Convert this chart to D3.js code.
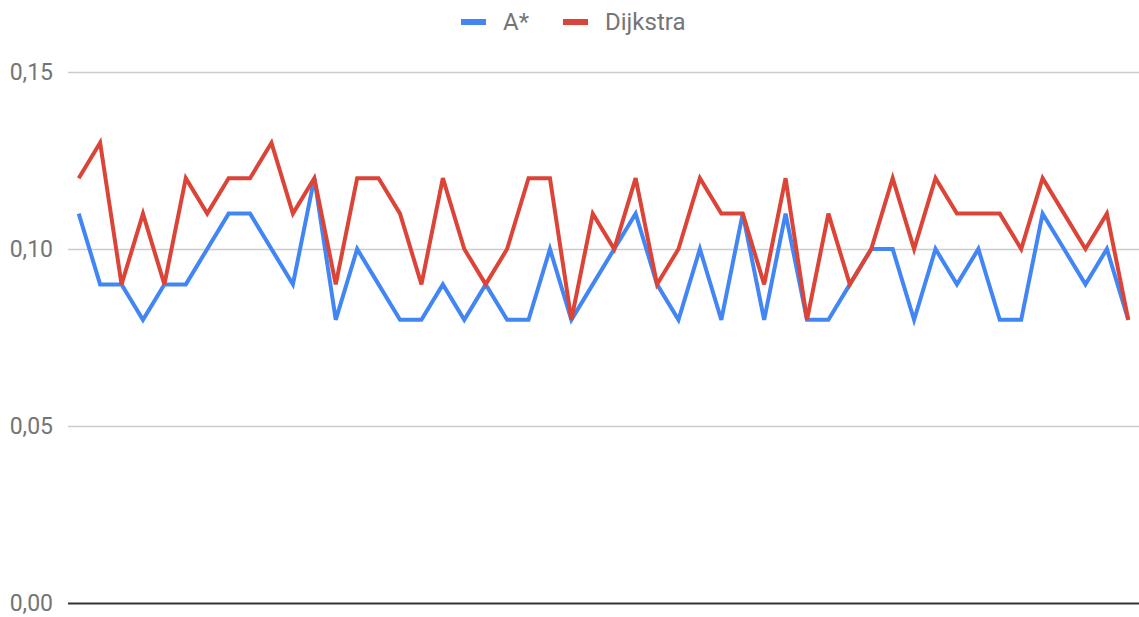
<!DOCTYPE html>
<html>
<head>
<meta charset="utf-8">
<script src="https://cdn.jsdelivr.net/npm/d3@7"></script>
<style>
  body { margin: 0; background: #fff; }
  svg { display: block; font-family: Roboto, "Noto Sans", sans-serif; }
</style>
</head>
<body>
<svg id="chart" width="1139" height="617"></svg>
<script>
// one value per run
const runs = d3.range(1, 51);
const aStar = [0.11, 0.09, 0.09, 0.08, 0.09, 0.09, 0.10, 0.11, 0.11, 0.10,
               0.09, 0.12, 0.08, 0.10, 0.09, 0.08, 0.08, 0.09, 0.08, 0.09,
               0.08, 0.08, 0.10, 0.08, 0.09, 0.10, 0.11, 0.09, 0.08, 0.10,
               0.08, 0.11, 0.08, 0.11, 0.08, 0.08, 0.09, 0.10, 0.10, 0.08,
               0.10, 0.09, 0.10, 0.08, 0.08, 0.11, 0.10, 0.09, 0.10, 0.08];
const dijkstra = [0.12, 0.13, 0.09, 0.11, 0.09, 0.12, 0.11, 0.12, 0.12, 0.13,
                  0.11, 0.12, 0.09, 0.12, 0.12, 0.11, 0.09, 0.12, 0.10, 0.09,
                  0.10, 0.12, 0.12, 0.08, 0.11, 0.10, 0.12, 0.09, 0.10, 0.12,
                  0.11, 0.11, 0.09, 0.12, 0.08, 0.11, 0.09, 0.10, 0.12, 0.10,
                  0.12, 0.11, 0.11, 0.11, 0.10, 0.12, 0.11, 0.10, 0.11, 0.08];
const yTicks = [0, 0.05, 0.10, 0.15];
const seriesNames = ["A*", "Dijkstra"];
const colors = ["#4285f4", "#db4437"];

const svg = d3.select("#chart");
const plotLeft = 68, plotRight = 1139, plotTop = 72, plotBottom = 603;

const x = d3.scalePoint().domain(runs).range([plotLeft, plotRight]).padding(0.5);
const y = d3.scaleLinear().domain([0, 0.15]).range([plotBottom, plotTop]);
const fmt = d => d3.format(".2f")(d).replace(".", ",");

// gridlines + labels
const yAxis = svg.append("g")
  .attr("transform", `translate(${plotLeft},0)`)
  .call(d3.axisLeft(y).tickValues(yTicks).tickSize(-(plotRight - plotLeft)).tickPadding(15).tickFormat(fmt));
yAxis.select(".domain").remove();
yAxis.selectAll(".tick line")
  .attr("stroke", d => d === 0 ? "#333" : "#cccccc")
  .attr("stroke-width", d => d === 0 ? 2 : 1.5);
yAxis.selectAll(".tick text")
  .attr("fill", "#757575")
  .attr("font-size", 23)
  .attr("font-family", "Roboto, sans-serif");

// lines
const line = d3.line().x((d, i) => x(runs[i])).y(d => y(d));
[aStar, dijkstra].forEach((vals, k) => {
  svg.append("path")
    .datum(vals)
    .attr("fill", "none")
    .attr("stroke", colors[k])
    .attr("stroke-width", 4)
    .attr("stroke-linejoin", "miter")
    .attr("d", line);
});

// legend
const legend = svg.append("g").attr("transform", "translate(461,22)");
const legX = [0, 102];
seriesNames.forEach((name, i) => {
  const g = legend.append("g").attr("transform", `translate(${legX[i]},0)`);
  g.append("rect").attr("x", 0).attr("y", -3).attr("width", 25).attr("height", 6).attr("fill", colors[i]);
  g.append("text").attr("x", 42).attr("y", 0).attr("dy", "0.35em")
    .attr("fill", "#757575").attr("font-size", 24).text(name);
});
</script>
</body>
</html>
